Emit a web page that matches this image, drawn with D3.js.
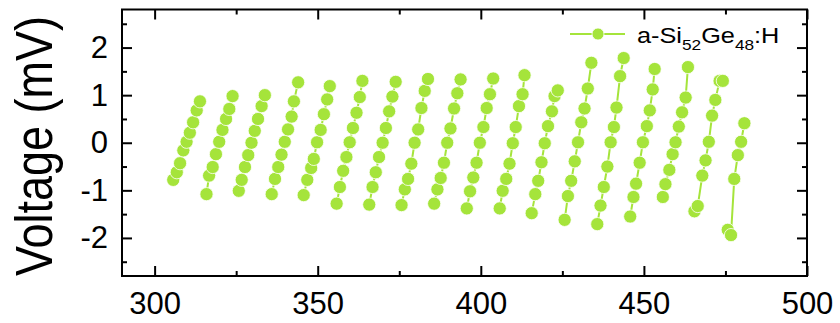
<!DOCTYPE html>
<html>
<head>
<meta charset="utf-8">
<script src="https://cdn.jsdelivr.net/npm/d3@7"></script>
<style>
  html, body { margin: 0; padding: 0; background: #fff; }
  svg { display: block; font-family: "Liberation Sans", Arial, sans-serif; }
</style>
</head>
<body>
<svg id="chart" width="840" height="323"></svg>
<script>
// Voltage sweeps: each inner array is one ramp, x in the horizontal axis units, y in mV
const sweepX = [
  [305.7, 306.8, 307.8, 308.8, 309.8, 310.8, 311.8, 312.9, 313.9],
  [315.9, 316.7, 317.8, 318.8, 319.8, 320.8, 321.9, 322.9, 323.9],
  [325.8, 326.7, 327.7, 328.7, 329.7, 330.7, 331.7, 332.8, 333.8],
  [335.9, 336.9, 337.9, 338.9, 339.9, 340.9, 342.0, 342.7, 344.0],
  [345.7, 346.8, 348.0, 348.8, 349.8, 350.9, 351.9, 352.9, 353.7],
  [355.8, 356.8, 357.8, 358.8, 359.8, 360.8, 361.9, 362.9, 363.7],
  [365.8, 366.8, 367.8, 368.8, 369.9, 370.9, 371.9, 372.9, 373.9],
  [375.7, 376.7, 377.7, 378.7, 379.7, 380.8, 381.8, 382.8, 383.8],
  [385.7, 386.7, 387.7, 388.7, 389.7, 390.7, 391.8, 392.8, 393.8],
  [395.7, 396.7, 397.7, 398.7, 399.7, 400.8, 401.8, 402.8, 403.8],
  [405.8, 406.7, 407.8, 408.8, 409.8, 410.7, 411.7, 412.8, 413.4],
  [415.6, 416.7, 417.6, 418.6, 419.6, 420.6, 421.8, 422.6, 423.6],
  [425.7, 426.7, 427.7, 428.8, 429.8, 430.8, 431.8, 432.8, 433.9],
  [435.7, 436.7, 437.7, 438.8, 439.8, 440.8, 441.6, 442.7, 443.8],
  [445.8, 446.8, 447.6, 448.7, 449.7, 450.9, 451.8, 452.7, 453.3],
  [455.8, 456.6, 457.8, 458.8, 459.7, 460.7, 461.7, 462.8, 463.5],
  [465.5, 466.5, 467.9, 468.9, 469.9, 470.9, 471.9, 473.2, 474.2],
  [475.7, 476.7, 477.7, 478.8, 479.8, 480.8]
];
const sweepY = [
  [-0.78, -0.62, -0.43, -0.16, 0.02, 0.21, 0.43, 0.68, 0.87],
  [-1.08, -0.69, -0.51, -0.24, 0.02, 0.27, 0.50, 0.71, 0.98],
  [-1.01, -0.78, -0.51, -0.26, 0.00, 0.25, 0.50, 0.77, 1.00],
  [-1.08, -0.76, -0.51, -0.25, 0.02, 0.28, 0.55, 0.87, 1.27],
  [-1.10, -0.78, -0.53, -0.34, 0.01, 0.27, 0.60, 0.91, 1.19],
  [-1.28, -0.93, -0.59, -0.30, 0.01, 0.31, 0.63, 0.96, 1.30],
  [-1.30, -0.93, -0.62, -0.30, 0.00, 0.31, 0.66, 0.97, 1.28],
  [-1.31, -0.98, -0.76, -0.44, 0.00, 0.28, 0.73, 1.09, 1.34],
  [-1.28, -0.98, -0.74, -0.42, 0.00, 0.30, 0.72, 1.04, 1.33],
  [-1.38, -1.02, -0.73, -0.42, 0.00, 0.33, 0.73, 1.02, 1.35],
  [-1.38, -1.01, -0.76, -0.44, -0.01, 0.33, 0.77, 1.02, 1.42],
  [-1.48, -1.08, -0.80, -0.41, -0.01, 0.35, 0.66, 0.98, 1.10],
  [-1.62, -1.12, -0.80, -0.39, 0.01, 0.43, 0.72, 1.14, 1.68],
  [-1.71, -1.32, -0.93, -0.50, 0.01, 0.33, 0.74, 1.40, 1.78],
  [-1.55, -1.14, -0.86, -0.42, 0.01, 0.35, 0.68, 1.12, 1.55],
  [-1.14, -0.87, -0.57, -0.24, 0.01, 0.34, 0.64, 0.95, 1.59],
  [-1.44, -1.33, -0.69, -0.37, 0.02, 0.57, 0.90, 1.30, 1.30],
  [-1.83, -1.94, -0.76, -0.26, 0.02, 0.41]
];

const xMajorTicks = [300, 350, 400, 450, 500];
const xMinorTicks = [325, 375, 425, 475];
const yMajorTicks = [-2, -1, 0, 1, 2];
const yMinorTicks = [-2.5, -1.5, -0.5, 0.5, 1.5, 2.5];
const seriesName = ["a-Si", "52", "Ge", "48", ":H"];   // plain / subscript parts

const color = "#a5e43b";
const svg = d3.select("#chart");

const plot = { left: 122, right: 807, top: 9.5, bottom: 276 };
const x = d3.scaleLinear().domain([290, 500]).range([plot.left, plot.right]);
const y = d3.scaleLinear().domain([-2.8, 2.8]).range([plot.bottom, plot.top]);

// ---- axes: ticks point inward on all four sides ----
function styleAxis(g) {
  g.select(".domain").remove();
  g.selectAll(".tick line").attr("stroke", "#000").attr("stroke-width", 2);
  g.selectAll(".tick text").attr("fill", "#000").attr("font-size", 31)
    .attr("font-family", "Liberation Sans, Arial, sans-serif");
}
const fmt = d3.format("d");

svg.append("g").attr("transform", `translate(0,${plot.bottom})`)
  .call(d3.axisBottom(x).tickValues(xMajorTicks).tickSize(-10).tickPadding(16).tickFormat(fmt))
  .call(styleAxis);
svg.append("g").attr("transform", `translate(0,${plot.bottom})`)
  .call(d3.axisBottom(x).tickValues(xMinorTicks).tickSize(-5).tickFormat(""))
  .call(styleAxis);
svg.append("g").attr("transform", `translate(0,${plot.top})`)
  .call(d3.axisTop(x).tickValues(xMajorTicks).tickSize(-10).tickFormat(""))
  .call(styleAxis);
svg.append("g").attr("transform", `translate(0,${plot.top})`)
  .call(d3.axisTop(x).tickValues(xMinorTicks).tickSize(-5).tickFormat(""))
  .call(styleAxis);

svg.append("g").attr("transform", `translate(${plot.left},0)`)
  .call(d3.axisLeft(y).tickValues(yMajorTicks).tickSize(-10).tickPadding(14).tickFormat(fmt))
  .call(styleAxis);
svg.append("g").attr("transform", `translate(${plot.left},0)`)
  .call(d3.axisLeft(y).tickValues(yMinorTicks).tickSize(-5).tickFormat(""))
  .call(styleAxis);
svg.append("g").attr("transform", `translate(${plot.right},0)`)
  .call(d3.axisRight(y).tickValues(yMajorTicks).tickSize(-10).tickFormat(""))
  .call(styleAxis);
svg.append("g").attr("transform", `translate(${plot.right},0)`)
  .call(d3.axisRight(y).tickValues(yMinorTicks).tickSize(-5).tickFormat(""))
  .call(styleAxis);

// minus sign in the tick labels uses a plain hyphen
svg.selectAll(".tick text").text(function () { return d3.select(this).text().replace("−", "-"); });

// frame
svg.append("rect")
  .attr("x", plot.left).attr("y", plot.top)
  .attr("width", plot.right - plot.left).attr("height", plot.bottom - plot.top)
  .attr("fill", "none").attr("stroke", "#000").attr("stroke-width", 2);

// y-axis title
svg.append("text")
  .attr("transform", `translate(52,146) scale(1.15,1) rotate(-90)`)
  .attr("text-anchor", "middle")
  .attr("font-size", 45)
  .attr("fill", "#000")
  .text("Voltage (mV)");

// ---- data ----
const sweeps = sweepX.map((xs, i) => xs.map((v, j) => ({ x: v, y: sweepY[i][j] })));
const line = d3.line().x(d => x(d.x)).y(d => y(d.y));

const dataG = svg.append("g");
dataG.selectAll("path.sweep").data(sweeps).join("path")
  .attr("class", "sweep")
  .attr("d", line)
  .attr("fill", "none").attr("stroke", color).attr("stroke-width", 2);

dataG.selectAll("g.pts").data(sweeps).join("g").attr("class", "pts")
  .selectAll("circle").data(d => d).join("circle")
  .attr("cx", d => x(d.x)).attr("cy", d => y(d.y)).attr("r", 6.6)
  .attr("fill", color).attr("stroke", "#fff").attr("stroke-width", 0.8);

// ---- legend ----
const leg = svg.append("g").attr("transform", "translate(570,34)");
leg.append("line").attr("x1", 0).attr("x2", 55).attr("y1", 0).attr("y2", 0)
  .attr("stroke", color).attr("stroke-width", 2);
leg.append("circle").attr("cx", 28).attr("cy", 0).attr("r", 6)
  .attr("fill", color).attr("stroke", "#fff").attr("stroke-width", 0.8);
const legText = leg.append("text")
  .attr("transform", "translate(67,9) scale(1.15,1)")
  .attr("font-size", 22).attr("fill", "#000");
seriesName.forEach((part, i) => {
  const sub = i % 2 === 1;
  legText.append("tspan")
    .attr("font-size", sub ? 15 : 22)
    .attr("dy", sub ? 7 : (i > 0 ? -7 : 0))
    .text(part);
});
</script>
</body>
</html>
